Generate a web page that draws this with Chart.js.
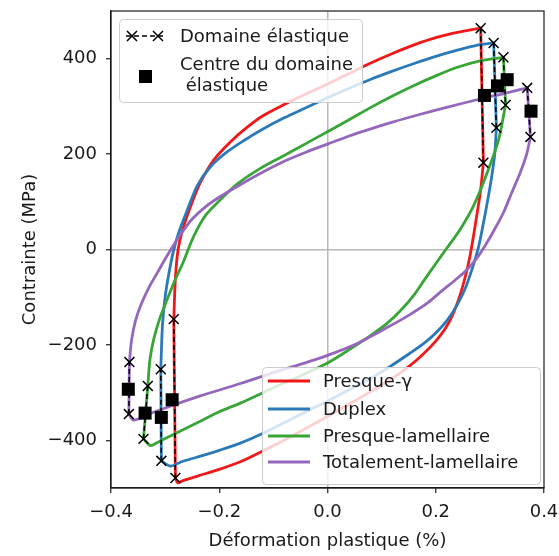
<!DOCTYPE html>
<html><head><meta charset="utf-8">
<script src="https://cdn.jsdelivr.net/npm/chart.js@4.4.0/dist/chart.umd.min.js"></script>
<style>html,body{margin:0;padding:0;background:#fff;}</style>
</head><body>
<canvas id="c" width="559" height="556"></canvas>
<script>
const seriesNames = ['Presque-γ', 'Duplex', 'Presque-lamellaire', 'Totalement-lamellaire'];
const seriesColors = ['#f01818', '#2a7ab9', '#38a536', '#9467bd'];
const xTicks = [-0.4, -0.2, 0.0, 0.2, 0.4];
const yTicks = [-400, -200, 0, 200, 400];
const legendElastic = 'Domaine élastique';
const legendCentre = ['Centre du domaine', ' élastique'];

// Presque-γ
const redUpper = [[-0.284,-146],[-0.281,-60],[-0.276,0],[-0.268,40],[-0.253,90],[-0.235,140],[-0.21,188],[-0.18,225],[-0.15,255],[-0.12,280],[-0.08,304],[-0.04,326],[0.0,347],[0.04,369],[0.08,391],[0.12,411],[0.16,429],[0.20,444],[0.24,455],[0.283,464]];
const redLower = [[0.288,182],[0.283,125],[0.277,80],[0.270,30],[0.263,-15],[0.255,-55],[0.245,-95],[0.232,-135],[0.218,-165],[0.20,-192],[0.178,-218],[0.153,-243],[0.12,-270],[0.08,-298],[0.04,-324],[0.0,-350],[-0.04,-375],[-0.08,-400],[-0.124,-425],[-0.161,-445],[-0.20,-461],[-0.24,-475],[-0.268,-485],[-0.277,-489],[-0.281,-479]];
const redElastic = [[0.283,464],[0.288,182],[-0.281,-479],[-0.284,-146]];
const redCentres = [[0.290,323],[-0.287,-315]];

// Duplex
const blueUpper = [[-0.308,-251],[-0.305,-160],[-0.300,-100],[-0.293,-50],[-0.285,-5],[-0.275,35],[-0.26,80],[-0.24,135],[-0.215,175],[-0.185,205],[-0.155,228],[-0.12,252],[-0.08,276],[-0.04,297],[0.0,318],[0.04,338],[0.08,357],[0.12,374],[0.16,390],[0.20,405],[0.24,418],[0.275,428],[0.307,433]];
const blueLower = [[0.312,255],[0.309,200],[0.303,150],[0.297,110],[0.288,55],[0.279,5],[0.268,-38],[0.255,-80],[0.24,-115],[0.222,-147],[0.20,-175],[0.178,-197],[0.153,-217],[0.116,-245],[0.08,-270],[0.04,-294],[0.0,-318],[-0.04,-340],[-0.08,-363],[-0.124,-388],[-0.161,-406],[-0.20,-421],[-0.24,-435],[-0.27,-445],[-0.290,-454],[-0.307,-443]];
const blueElastic = [[0.307,433],[0.312,255],[-0.307,-443],[-0.308,-251]];
const blueCentres = [[0.314,343],[-0.307,-352]];

// Presque-lamellaire
const greenUpper = [[-0.332,-286],[-0.328,-230],[-0.321,-188],[-0.310,-145],[-0.296,-104],[-0.282,-65],[-0.266,-25],[-0.247,28],[-0.225,72],[-0.20,102],[-0.166,138],[-0.124,170],[-0.08,197],[-0.04,222],[0.0,247],[0.04,272],[0.08,298],[0.12,322],[0.16,344],[0.20,364],[0.24,382],[0.28,395],[0.325,403]];
const greenLower = [[0.329,303],[0.316,230],[0.295,161],[0.27,92],[0.245,42],[0.22,2],[0.20,-30],[0.18,-62],[0.16,-95],[0.135,-128],[0.11,-155],[0.08,-180],[0.04,-210],[0.0,-238],[-0.05,-265],[-0.10,-290],[-0.161,-322],[-0.20,-340],[-0.235,-360],[-0.28,-385],[-0.315,-405],[-0.327,-411],[-0.340,-397]];
const greenElastic = [[0.325,403],[0.329,303],[-0.340,-397],[-0.332,-286]];
const greenCentres = [[0.332,356],[-0.337,-343]];

// Totalement-lamellaire
const purpleUpper = [[-0.366,-236],[-0.362,-190],[-0.355,-150],[-0.345,-117],[-0.33,-80],[-0.314,-48],[-0.30,-20],[-0.285,8],[-0.27,34],[-0.25,64],[-0.225,90],[-0.198,111],[-0.155,140],[-0.12,162],[-0.08,185],[-0.04,204],[0.0,221],[0.04,238],[0.08,253],[0.12,267],[0.17,283],[0.22,298],[0.28,315],[0.33,328],[0.369,339]];
const purpleLower = [[0.375,236],[0.368,200],[0.356,161],[0.340,118],[0.325,77],[0.31,45],[0.295,15],[0.278,-15],[0.258,-42],[0.235,-65],[0.214,-84],[0.185,-112],[0.15,-138],[0.116,-160],[0.055,-197],[0.0,-222],[-0.037,-236],[-0.10,-258],[-0.161,-281],[-0.235,-307],[-0.284,-326],[-0.33,-345],[-0.358,-358],[-0.367,-345]];
const purpleElastic = [[0.369,339],[0.375,236],[-0.367,-345],[-0.366,-236]];
const purpleCentres = [[0.376,290],[-0.368,-293]];

const uppers = [redUpper, blueUpper, greenUpper, purpleUpper];
const lowers = [redLower, blueLower, greenLower, purpleLower];
const elastics = [redElastic, blueElastic, greenElastic, purpleElastic];
const centres = [redCentres, blueCentres, greenCentres, purpleCentres];

const pts = a => a.map(p => ({x: p[0], y: p[1]}));
const FONT = "'DejaVu Sans', 'Liberation Sans', sans-serif";
const LW = 2.8;

const datasets = [];
const allCentres = [].concat(...centres);
datasets.push({label:'centres', data: pts(allCentres), showLine:false, pointStyle:'rect', pointRadius:9.2,
  pointBackgroundColor:'#000', pointBorderColor:'#000', pointBorderWidth:0, order:0});
elastics.forEach((e, i) => {
  [[e[0], e[1]], [e[2], e[3]]].forEach(seg => {
    datasets.push({label:'el'+i, data: pts(seg), showLine:true, borderColor:'#000', borderWidth:1.5,
      borderDash:[5,3], pointStyle:'crossRot', pointRadius:7, pointBorderColor:'#000', pointBorderWidth:1.5,
      pointBackgroundColor:'#000', tension:0, order:1});
  });
});
for (let i = 0; i < 4; i++) {
  const col = seriesColors[i];
  const ord = 10 - i;
  const base = {showLine:true, borderColor:col, borderWidth:LW, pointRadius:0, pointHoverRadius:0, fill:false, order:ord, borderCapStyle:'round', borderJoinStyle:'round'};
  datasets.push(Object.assign({label:seriesNames[i]+' u', data: pts(uppers[i]), tension:0.3}, base));
  datasets.push(Object.assign({label:seriesNames[i]+' l', data: pts(lowers[i]), tension:0.3}, base));
  const e = elastics[i];
  datasets.push(Object.assign({label:seriesNames[i]+' e1', data: pts([e[0], e[1]]), tension:0}, base));
  datasets.push(Object.assign({label:seriesNames[i]+' e2', data: pts([e[2], e[3]]), tension:0}, base));
}

function rrect(ctx, x, y, w, h, r) {
  ctx.beginPath();
  ctx.moveTo(x + r, y);
  ctx.lineTo(x + w - r, y); ctx.arcTo(x + w, y, x + w, y + r, r);
  ctx.lineTo(x + w, y + h - r); ctx.arcTo(x + w, y + h, x + w - r, y + h, r);
  ctx.lineTo(x + r, y + h); ctx.arcTo(x, y + h, x, y + h - r, r);
  ctx.lineTo(x, y + r); ctx.arcTo(x, y, x + r, y, r);
  ctx.closePath();
}
function cross(ctx, x, y, s) {
  ctx.beginPath();
  ctx.moveTo(x - s, y - s); ctx.lineTo(x + s, y + s);
  ctx.moveTo(x - s, y + s); ctx.lineTo(x + s, y - s);
  ctx.stroke();
}

const framePlugin = {
  id: 'frame',
  afterDatasetsDraw(chart) {
    const {ctx, chartArea: a} = chart;
    ctx.save();
    ctx.strokeStyle = '#1a1a1a';
    ctx.lineWidth = 1.2;
    ctx.strokeRect(a.left, a.top, a.right - a.left, a.bottom - a.top);
    ctx.restore();
  }
};

const legendPlugin = {
  id: 'legends',
  afterDraw(chart) {
    const ctx = chart.ctx;
    ctx.save();
    ctx.font = '18px ' + FONT;
    ctx.textBaseline = 'middle';
    ctx.textAlign = 'left';
    rrect(ctx, 119.5, 19.5, 243, 83, 4);
    ctx.fillStyle = 'rgba(255,255,255,0.8)'; ctx.fill();
    ctx.strokeStyle = '#cccccc'; ctx.lineWidth = 1; ctx.stroke();
    ctx.strokeStyle = '#000'; ctx.lineWidth = 1.5;
    ctx.setLineDash([5, 3]);
    ctx.beginPath(); ctx.moveTo(126, 36); ctx.lineTo(166, 36); ctx.stroke();
    ctx.setLineDash([]);
    cross(ctx, 132, 36, 5); cross(ctx, 158, 36, 5);
    ctx.fillStyle = '#1a1a1a';
    ctx.fillText(legendElastic, 180, 37);
    ctx.fillStyle = '#000';
    ctx.fillRect(139, 70, 13, 13);
    ctx.fillStyle = '#1a1a1a';
    ctx.fillText(legendCentre[0], 180, 65);
    ctx.fillText(legendCentre[1], 180, 86);
    rrect(ctx, 262.5, 367.5, 278, 117, 4);
    ctx.fillStyle = 'rgba(255,255,255,0.8)'; ctx.fill();
    ctx.strokeStyle = '#cccccc'; ctx.lineWidth = 1; ctx.stroke();
    const ys = [381, 409, 436, 462];
    for (let i = 0; i < 4; i++) {
      ctx.strokeStyle = seriesColors[i]; ctx.lineWidth = LW;
      ctx.beginPath(); ctx.moveTo(268, ys[i]); ctx.lineTo(310, ys[i]); ctx.stroke();
      ctx.fillStyle = '#1a1a1a';
      ctx.fillText(seriesNames[i], 323, ys[i] + 1);
    }
    ctx.restore();
  }
};

const fmt = (v, d) => (d ? v.toFixed(d) : String(v)).replace('-', '\u2212');
const gridColor = c => (c.tick && Math.abs(c.tick.value) < 1e-9) ? '#b8b8b8' : 'rgba(0,0,0,0)';

new Chart(document.getElementById('c'), {
  type: 'scatter',
  data: { datasets },
  options: {
    responsive: false,
    animation: false,
    devicePixelRatio: 1,
    layout: { padding: { left: 0, right: 15, top: 11, bottom: 0 } },
    plugins: { legend: { display: false }, tooltip: { enabled: false } },
    scales: {
      x: {
        type: 'linear', min: -0.4, max: 0.4,
        afterBuildTicks: s => { s.ticks = xTicks.map(v => ({value: v})); },
        afterFit: s => { s.height = 68; s.paddingLeft = 0; s.paddingRight = 0; },
        ticks: { callback: v => fmt(v, 1), font: {family: FONT, size: 18}, color: '#1a1a1a', padding: 9, maxRotation: 0, autoSkip: false },
        grid: { color: gridColor, lineWidth: 1.5, tickColor: '#1a1a1a', tickLength: 5, tickWidth: 1.2, drawTicks: true },
        border: { display: true, color: '#1a1a1a', width: 1.2 },
        title: { display: true, text: 'Déformation plastique (%)', font: {family: FONT, size: 18}, color: '#1a1a1a', padding: {top: 0, bottom: 4} }
      },
      y: {
        type: 'linear', min: -500, max: 500,
        afterBuildTicks: s => { s.ticks = yTicks.map(v => ({value: v})); },
        afterFit: s => { s.width = 111; s.paddingTop = 0; s.paddingBottom = 0; },
        ticks: { callback: v => fmt(v, 0), font: {family: FONT, size: 18}, color: '#1a1a1a', padding: 9, autoSkip: false },
        grid: { color: gridColor, lineWidth: 1.5, tickColor: '#1a1a1a', tickLength: 5, tickWidth: 1.2, drawTicks: true },
        border: { display: true, color: '#1a1a1a', width: 1.2 },
        title: { display: true, text: 'Contrainte (MPa)', font: {family: FONT, size: 18}, color: '#1a1a1a', padding: {top: 20, bottom: 0} }
      }
    }
  },
  plugins: [framePlugin, legendPlugin]
});
</script>
</body></html>
